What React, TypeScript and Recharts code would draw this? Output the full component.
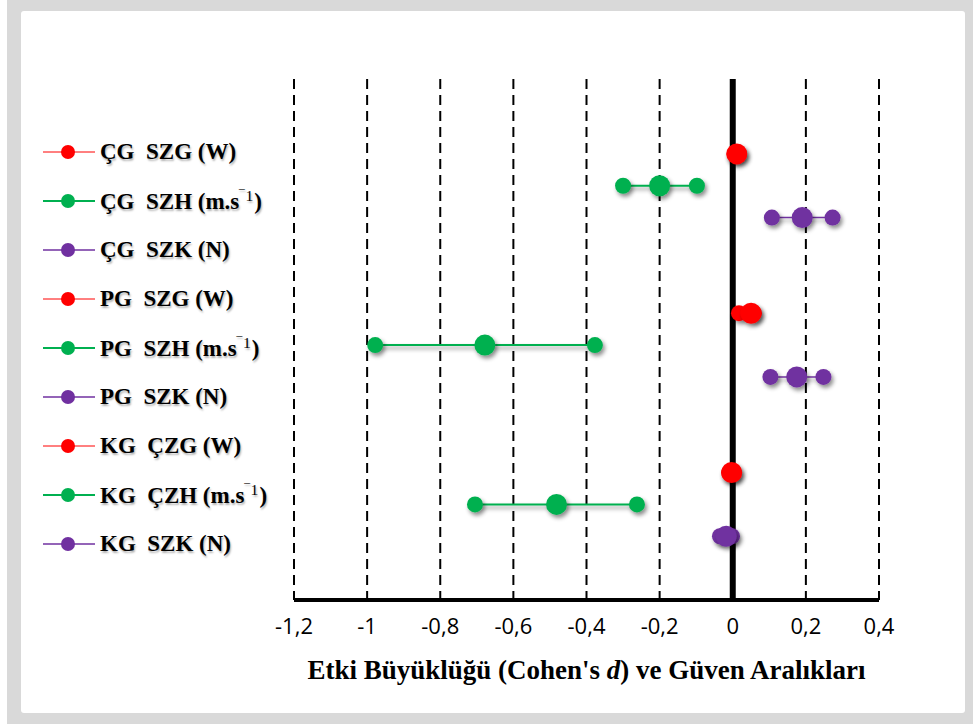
import { ScatterChart, Scatter, XAxis, YAxis, CartesianGrid, ReferenceLine } from "recharts";

// one row per outcome, top to bottom
const rowLabels = [
  "ÇG  SZG (W)",
  "ÇG  SZH (m.s⁻¹)",
  "ÇG  SZK (N)",
  "PG  SZG (W)",
  "PG  SZH (m.s⁻¹)",
  "PG  SZK (N)",
  "KG  ÇZG (W)",
  "KG  ÇZH (m.s⁻¹)",
  "KG  SZK (N)",
];
const lower = [0.005, -0.3, 0.107, 0.017, -0.978, 0.103, -0.01, -0.705, -0.035];
const estimate = [0.011, -0.2, 0.19, 0.05, -0.678, 0.175, -0.003, -0.482, -0.018];
const upper = [0.017, -0.098, 0.273, 0.058, -0.377, 0.248, 0.003, -0.262, -0.002];
const xTicks = [-1.2, -1, -0.8, -0.6, -0.4, -0.2, 0, 0.2, 0.4];

const COLORS = ["#ff0000", "#00b050", "#7030a0"];
const LINE_W = [1, 2, 1.5];

// groups of three rows, with a gap between groups
const slot = (i: number) => Math.floor(i / 3) * 5 + (i % 3);

const fmt = (v: number) => String(Number(v.toFixed(1))).replace(".", ",");

const serif = "'Liberation Serif', 'Times New Roman', serif";

function Dot(r: number, color: string) {
  return (p: any) => (
    <circle cx={p.cx} cy={p.cy} r={r} fill={color} filter="url(#mk-shadow)" />
  );
}

function AxisTitle(p: any) {
  const vb = p.viewBox || { x: 294, y: 600, width: 585 };
  return (
    <text
      x={vb.x + vb.width / 2}
      y={vb.y + 79}
      textAnchor="middle"
      fontFamily={serif}
      fontWeight="bold"
      fontSize={27}
      fill="#000"
    >
      Etki Büyüklüğü (Cohen's <tspan fontStyle="italic">d</tspan>) ve Güven Aralıkları
    </text>
  );
}

// split off the unit exponent so it can be set as a superscript
function LegendText({ label }: { label: string }) {
  const k = label.indexOf("⁻¹");
  if (k < 0) return <>{label}</>;
  return (
    <>
      {label.slice(0, k)}
      <span style={{ fontSize: "0.68em", fontWeight: "normal", verticalAlign: "0.5em", letterSpacing: 1 }}>‾1</span>
      {label.slice(k + 2)}
    </>
  );
}

export default function App() {
  return (
    <div style={{ position: "absolute", left: 0, top: 0, width: 973, height: 724, background: "#fff", overflow: "hidden" }}>
      <svg width={0} height={0} style={{ position: "absolute" }}>
        <defs>
          <filter id="mk-shadow" filterUnits="userSpaceOnUse" x={0} y={0} width={973} height={724}>
            <feDropShadow dx={2} dy={3} stdDeviation={2} floodColor="#000" floodOpacity={0.45} />
          </filter>
        </defs>
      </svg>
      <div style={{ position: "absolute", left: 7, top: -20, width: 990, height: 760, background: "#d9d9d9", borderRadius: 16 }} />
      <div style={{ position: "absolute", left: 21, top: 11, width: 944, height: 702, background: "#fff", borderRadius: 3 }} />

      <div style={{ position: "absolute", left: 0, top: 0 }}>
        <ScatterChart width={973} height={724} margin={{ top: 79, right: 94, bottom: 34, left: 294 }}>
          <CartesianGrid horizontal={false} stroke="#000" strokeWidth={2} strokeDasharray="10 6" />
          <XAxis
            type="number"
            dataKey="x"
            domain={[-1.2, 0.4]}
            ticks={xTicks}
            tickFormatter={fmt}
            height={90}
            tickSize={0}
            tickMargin={18}
            axisLine={{ stroke: "#000", strokeWidth: 4 }}
            tick={{ fill: "#000", fontSize: 22, fontFamily: "'Open Sans', sans-serif" }}
            allowDataOverflow
            label={{ content: AxisTitle }}
          />
          <YAxis type="number" dataKey="y" domain={[-2.35, 14]} reversed hide />
          {rowLabels.map((_, i) => (
            <Scatter
              key={"ci" + i}
              data={[
                { x: lower[i], y: slot(i) },
                { x: upper[i], y: slot(i) },
              ]}
              line={{ stroke: COLORS[i % 3], strokeWidth: LINE_W[i % 3], filter: "url(#mk-shadow)" }}
              shape={Dot(8, COLORS[i % 3])}
              isAnimationActive={false}
            />
          ))}
          {rowLabels.map((_, i) => (
            <Scatter
              key={"est" + i}
              data={[{ x: estimate[i], y: slot(i) }]}
              shape={Dot(10.5, COLORS[i % 3])}
              isAnimationActive={false}
            />
          ))}
          <ReferenceLine x={0} stroke="#000" strokeWidth={6} />
        </ScatterChart>
      </div>

      <div style={{ position: "absolute", left: 43, top: 127 }}>
        {rowLabels.map((label, i) => (
          <div key={label} style={{ height: 49, display: "flex", alignItems: "center" }}>
            <svg width={54} height={20}>
              <line x1={0} y1={10} x2={52} y2={10} stroke={COLORS[i % 3]} strokeWidth={LINE_W[i % 3]} />
              <circle cx={25} cy={10} r={7} fill={COLORS[i % 3]} />
            </svg>
            <span
              style={{
                marginLeft: 3,
                fontFamily: serif,
                fontWeight: "bold",
                fontSize: 23,
                whiteSpace: "pre",
                color: "#000",
                textShadow: "1px 2px 2px rgba(0,0,0,0.3)",
              }}
            >
              <LegendText label={label} />
            </span>
          </div>
        ))}
      </div>
    </div>
  );
}
